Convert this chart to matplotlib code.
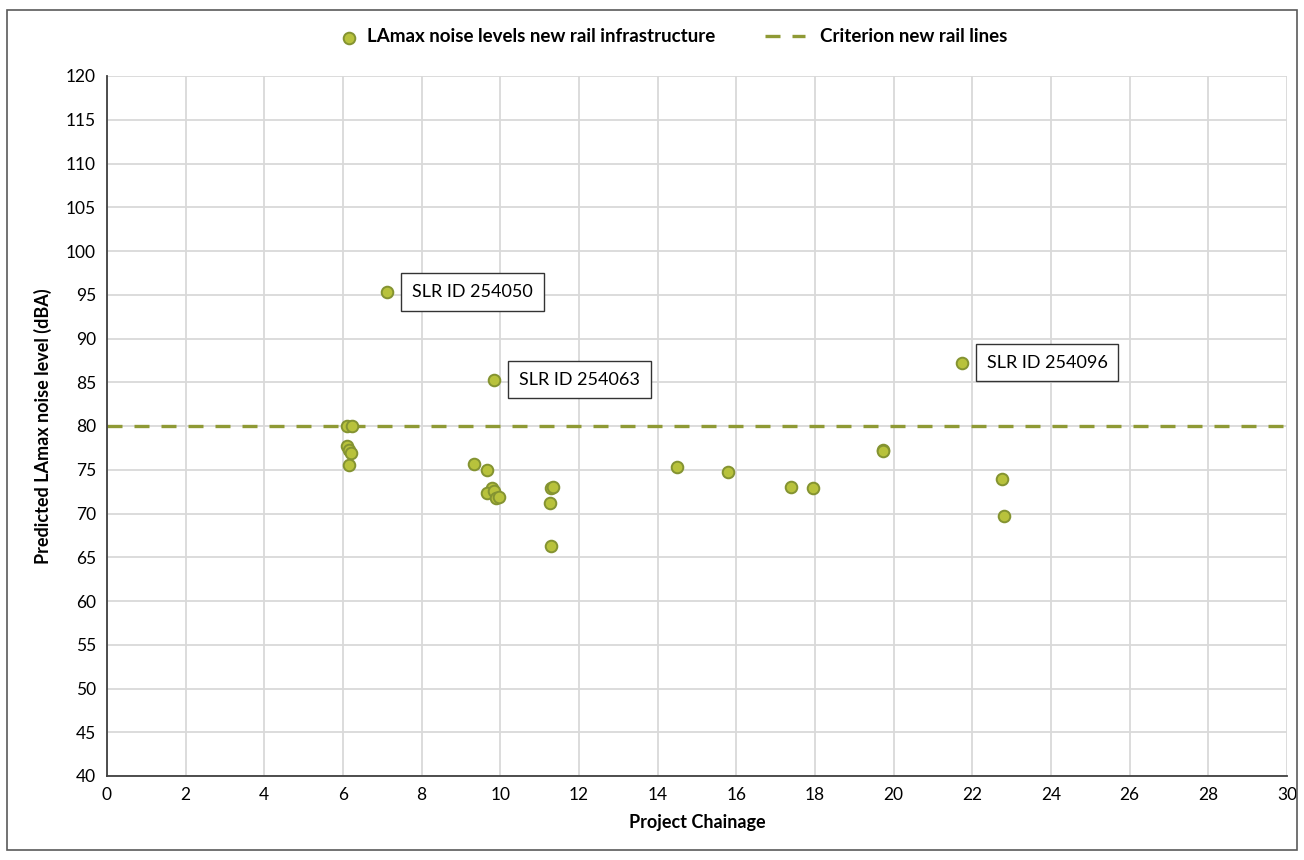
import numpy as np
import matplotlib
matplotlib.use("Agg")
import matplotlib.pyplot as plt
from matplotlib.patches import Rectangle

plt.rcParams['font.family'] = ['Lato', 'DejaVu Sans']

# chainage (km) and predicted LAmax (dBA)
chainage = [6.09, 6.22, 6.09, 6.14, 6.20, 6.16, 7.12, 9.32, 9.65, 9.78, 9.67, 9.85,
            9.88, 9.97, 9.84, 11.30, 11.35, 11.26, 11.30, 14.50, 15.78, 17.38,
            17.94, 19.74, 19.74, 21.73, 22.75, 22.81]
lamax = [80.0, 80.0, 77.7, 77.3, 76.9, 75.5, 95.3, 75.7, 75.0, 72.9, 72.3, 72.6,
         71.8, 71.9, 85.3, 72.95, 73.06, 71.2, 66.3, 75.3, 74.7, 73.0,
         72.9, 77.3, 77.1, 87.25, 74.0, 69.7]
criterion = 80
labels = {6: "SLR ID 254050", 14: "SLR ID 254063", 25: "SLR ID 254096"}

fig = plt.figure(figsize=(13.04, 8.6), dpi=100)
ax = fig.add_axes([107/1304, 1 - 776/860, (1287-107)/1304, (776-76)/860])

# outer frame around the chart
fig.patches.append(Rectangle((7/1304, 1 - 850/860), 1290/1304, 840/860,
                             transform=fig.transFigure, fill=False,
                             edgecolor='#5a5a5a', lw=1.2))

line = ax.axhline(criterion, color='#8f9a35', lw=2.4, dashes=(4.5, 3.6), zorder=2)
pts = ax.scatter(chainage, lamax, s=70, facecolor='#b8c23c', edgecolor='#849331',
                 linewidth=1.4, zorder=3)

for i, txt in labels.items():
    ax.annotate(txt, (chainage[i], lamax[i]), xytext=(18, 0), textcoords='offset points',
                ha='left', va='center', fontsize=13, zorder=4,
                bbox=dict(boxstyle='square,pad=0.6', fc='white', ec='#333333', lw=1))

ax.set_xlim(0, 30)
ax.set_ylim(40, 120)
ax.set_xticks(np.arange(0, 31, 2))
ax.set_yticks(np.arange(40, 121, 5))
ax.grid(True, color='#d9d9d9', lw=1.3)
ax.set_axisbelow(True)
for s in ['top', 'right']:
    ax.spines[s].set_visible(False)
for s in ['left', 'bottom']:
    ax.spines[s].set_color('#404040')
    ax.spines[s].set_linewidth(1.3)
ax.tick_params(length=0, labelsize=12.5, pad=8)

ax.set_xlabel('Project Chainage', fontsize=13, fontweight='bold', labelpad=8)
ax.set_ylabel('Predicted LAmax noise level (dBA)', fontsize=13, fontweight='bold', labelpad=10)

lprop = {'size': 13.5, 'weight': 'bold'}
leg1 = fig.legend([pts], ['LAmax noise levels new rail infrastructure'], loc='center left',
                  bbox_to_anchor=(340/1304, 1 - 37/860), frameon=False, prop=lprop,
                  handlelength=1.0, handletextpad=0.45, borderpad=0, borderaxespad=0)
fig.legend([line], ['Criterion new rail lines'], loc='center left',
           bbox_to_anchor=(765/1304, 1 - 37/860), frameon=False, prop=lprop,
           handlelength=2.13, handletextpad=0.8, borderpad=0, borderaxespad=0)

plt.savefig('out.png', dpi=100)
plt.close()
